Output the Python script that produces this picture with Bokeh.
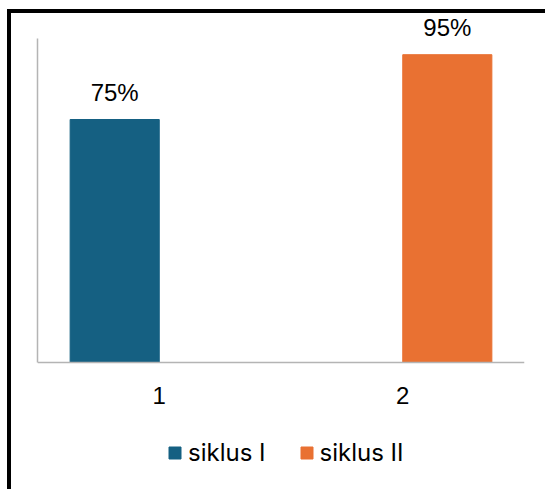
import math
from bokeh.plotting import figure
from bokeh.models import ColumnDataSource, FixedTicker, Legend, LegendItem, Range1d, LabelSet
from bokeh.core.properties import value
from bokeh.embed import file_html
from bokeh.resources import INLINE

categories = ["1", "2"]
series_names = ["siklus I", "siklus II"]
siklus_1 = [75, float("nan")]
siklus_2 = [float("nan"), 95]
colors = ["#156082", "#E97132"]

FONT = "Liberation Sans"
LEGEND_FONT = "Inter"
AXIS_GRAY = "#b4b4b4"

p = figure(frame_width=487, frame_height=474, output_backend="svg", toolbar_location=None,
           x_range=Range1d(0.5, 2.5), y_range=Range1d(-39.2, 107.1),
           min_border_left=26, min_border_right=21, min_border_top=2,
           min_border_bottom=0)
p.grid.visible = False
p.outline_line_color = None
p.styles = {"border-left": "4px solid black", "border-top": "4px solid black",
            "margin-left": "7px", "margin-top": "9px"}

p.yaxis.ticker = FixedTicker(ticks=[])
p.yaxis.bounds = (0, 100)
p.yaxis.major_tick_line_color = None
p.yaxis.minor_tick_line_color = None
p.yaxis.major_label_text_font_size = "0px"
p.yaxis.axis_line_color = AXIS_GRAY
p.yaxis.axis_line_width = 1.5

p.xaxis.fixed_location = 0
p.xaxis.ticker = FixedTicker(ticks=[i + 1 for i in range(len(categories))])
p.xaxis.major_label_overrides = {i + 1: c for i, c in enumerate(categories)}
p.xaxis.major_tick_line_color = None
p.xaxis.minor_tick_line_color = None
p.xaxis.major_tick_out = 0
p.xaxis.major_tick_in = 0
p.xaxis.axis_line_color = AXIS_GRAY
p.xaxis.axis_line_width = 1.5
p.xaxis.major_label_text_font = FONT
p.xaxis.major_label_text_font_size = "24px"
p.xaxis.major_label_text_color = "black"
p.xaxis.major_label_standoff = 25

bar_w = 0.366
items = []
for s, (name, vals, col) in enumerate(zip(series_names, [siklus_1, siklus_2], colors)):
    xs = [i + 1 + (s - 0.5) * bar_w for i in range(len(categories))]
    labels = ["" if math.isnan(v) else f"{v:g}%" for v in vals]
    src = ColumnDataSource(dict(x=xs, top=vals, label=labels))
    r = p.vbar(x="x", top="top", width=bar_w, color=col, source=src)
    p.add_layout(LabelSet(x="x", y="top", text="label", source=src, text_align="center",
                          text_baseline="middle", y_offset=27, text_font=value(FONT),
                          text_font_size=value("24px"), text_color=value("black")))
    items.append(LegendItem(label=name, renderers=[r]))

legend = Legend(items=items, location=(130, 22), orientation="horizontal",
                glyph_width=15, glyph_height=15, label_standoff=6, spacing=33,
                padding=0, margin=0, border_line_color=None,
                background_fill_alpha=0, label_text_font=LEGEND_FONT,
                label_text_font_size="24px", label_text_color="black")
p.add_layout(legend)

open("out.html", "w").write(file_html(p, INLINE))
